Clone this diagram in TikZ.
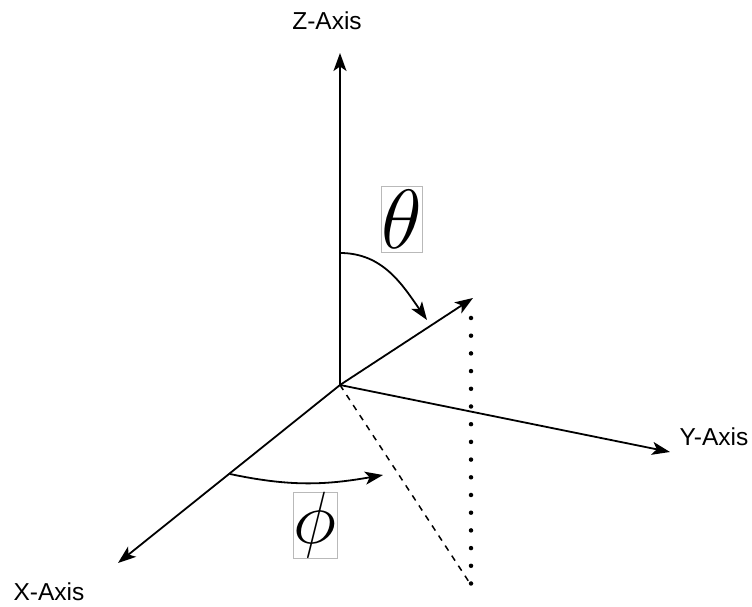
\RequirePackage{fix-cm}
\documentclass[tikz,border=0pt]{standalone}
\usepackage{fontspec}
\setmainfont{Liberation Sans}
\usetikzlibrary{arrows.meta}
\begin{document}
\begin{tikzpicture}[x=1pt, y=1pt, every node/.style={font=\fontsize{24.5}{28}\selectfont},
    ax/.style={line width=1.8pt, -{Stealth[length=18pt, width=13pt, inset=4.5pt]}},
    angbox/.style={draw=gray!55, line width=0.6pt, inner sep=0pt, minimum width=40pt, minimum height=66pt}]
\useasboundingbox (0,0) rectangle (752,607);
\coordinate (o) at (340,222);
\coordinate (zt) at (340,554);
\coordinate (xt) at (118,44);
\coordinate (yt) at (670,155);
\coordinate (vt) at (473,309);
\coordinate (vb) at (471,289);
\coordinate (vd) at (471,22);
\coordinate (ta) at (340,354);
\coordinate (tb) at (427,287);
\coordinate (pa) at (230,133);
\coordinate (pb) at (383,132);
\node (zl) at (327,586) {Z-Axis};
\node (xl) at (49,15) {X-Axis};
\node (yl) at (714,170) {Y-Axis};
\node[angbox] (th) at (402,388) {\fontsize{84}{84}\selectfont$\theta$};
\node[angbox, minimum width=44pt] (ph) at (315,82) {\fontsize{74}{74}\selectfont$\phi$};
% axes and vector
\foreach \t in {zt,xt,yt,vt} {
    \draw[ax] (o) -- (\t);
}
% projection
\draw[line width=1.5pt, dash pattern=on 6pt off 6pt] (o) -- (vd);
\draw[line width=4.5pt, line cap=round, dash pattern=on 0pt off 17.7pt] (vb) -- (vd);
% angles
\draw[ax] (ta) to[out=0, in=125] (tb);
\draw[ax] (pa) to[out=-12, in=190] (pb);
\end{tikzpicture}
\end{document}
